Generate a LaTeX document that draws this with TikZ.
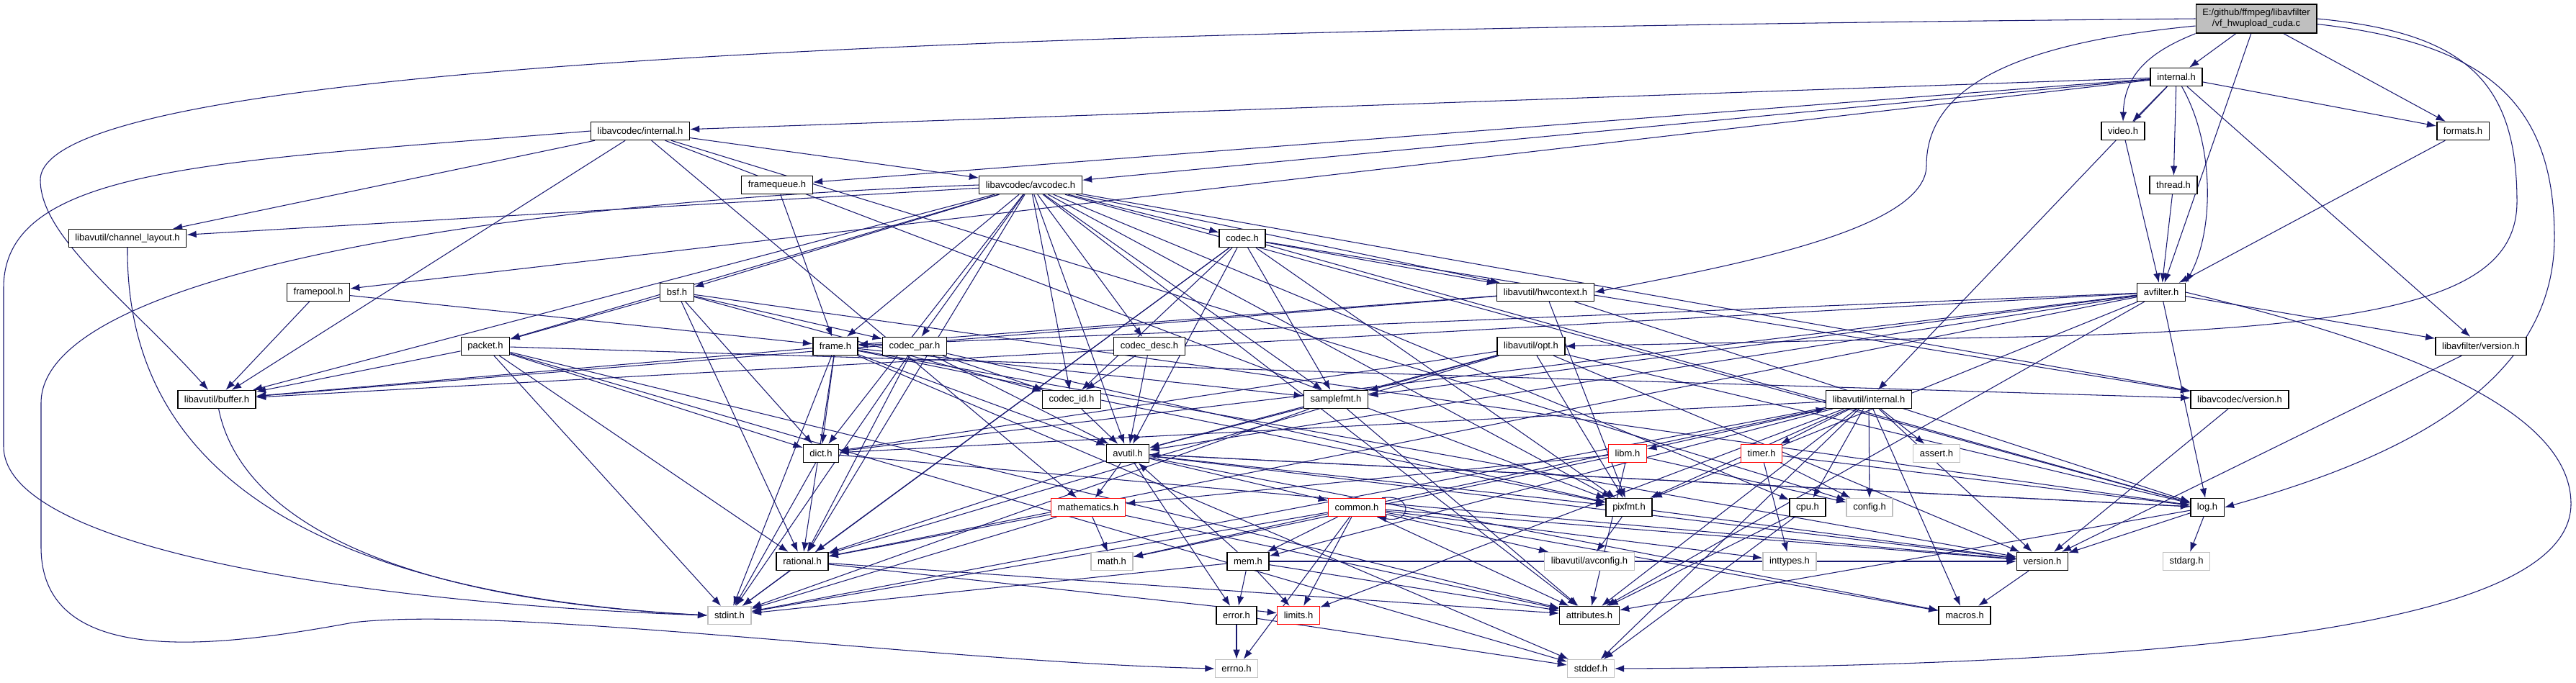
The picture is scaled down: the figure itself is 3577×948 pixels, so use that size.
\documentclass[tikz,border=0pt]{standalone}
\usepackage{fontspec}
\setmainfont{Liberation Sans}
\usetikzlibrary{positioning,arrows.meta}
\definecolor{edgeblue}{HTML}{191970}
\definecolor{grayline}{HTML}{BFBFBF}
\definecolor{rootfill}{HTML}{BFBFBF}
\pgfdeclarelayer{back}
\pgfsetlayers{back,main}

\begin{document}
\begin{tikzpicture}[x=0.02cm, y=-0.02cm,
    hdr/.style={draw=black, fill=white, line width=0.8pt, minimum height=0.5cm, inner xsep=5.2pt, inner ysep=0pt, font=\fontsize{7.4}{8.5}\selectfont},
    sys/.style={hdr, draw=grayline},
    trunc/.style={hdr, draw=red},
    dep/.style={draw=edgeblue, line width=0.6pt, -{Latex[length=7.5pt,width=5.5pt]}}
]
\useasboundingbox (0,0) rectangle (3577,948);

% file itself
\node[hdr, fill=rootfill, minimum height=0.8cm, align=center] (root) at (3133,26) {E:/github/ffmpeg/libavfilter\\/vf\_hwupload\_cuda.c};

% libavfilter and libavcodec headers
\node[hdr] (lfint) at (3022,107) {internal.h};
\node[hdr] (video) at (2948,182) {video.h};
\node[hdr] (formats) at (3420,182) {formats.h};
\node[hdr] (lcint) at (889,182) {libavcodec/internal.h};
\node[hdr] (fqueue) at (1079,257) {framequeue.h};
\node[hdr] (avcodec) at (1431,257) {libavcodec/avcodec.h};
\node[hdr] (thread) at (3018,257) {thread.h};
\node[hdr] (chlayout) at (177,331) {libavutil/channel\_layout.h};
\node[hdr] (codec) at (1725,331) {codec.h};
\node[hdr] (fpool) at (442,406) {framepool.h};
\node[hdr] (bsf) at (940,406) {bsf.h};
\node[hdr] (hwctx) at (2146,406) {libavutil/hwcontext.h};
\node[hdr] (avfilter) at (3001,406) {avfilter.h};
\node[hdr] (packet) at (674,481) {packet.h};
\node[hdr] (frame) at (1160,481) {frame.h};
\node[hdr] (cpar) at (1270,481) {codec\_par.h};
\node[hdr] (cdesc) at (1596,481) {codec\_desc.h};
\node[hdr] (opt) at (2126,481) {libavutil/opt.h};
\node[hdr] (lfver) at (3445,481) {libavfilter/version.h};
\node[hdr] (buffer) at (301,555) {libavutil/buffer.h};
\node[hdr] (cid) at (1488,555) {codec\_id.h};
\node[hdr] (sfmt) at (1855,555) {samplefmt.h};
\node[hdr] (auint) at (2595,555) {libavutil/internal.h};
\node[hdr] (lcver) at (3110,555) {libavcodec/version.h};

% libavutil and system headers
\node[hdr] (dict) at (1140,630) {dict.h};
\node[hdr] (avutil) at (1566,630) {avutil.h};
\node[trunc] (libm) at (2260,630) {libm.h};
\node[trunc] (timer) at (2446,630) {timer.h};
\node[sys] (assert) at (2689,630) {assert.h};
\node[trunc] (mathh) at (1511,705) {mathematics.h};
\node[trunc] (common) at (1884,705) {common.h};
\node[hdr] (pixfmt) at (2262,705) {pixfmt.h};
\node[hdr] (cpu) at (2510,705) {cpu.h};
\node[sys] (config) at (2596,705) {config.h};
\node[hdr] (log) at (3065,705) {log.h};
\node[hdr] (rational) at (1114,780) {rational.h};
\node[sys] (math) at (1544,780) {math.h};
\node[hdr] (mem) at (1733,780) {mem.h};
\node[sys] (avconf) at (2207,780) {libavutil/avconfig.h};
\node[sys] (inttypes) at (2485,780) {inttypes.h};
\node[hdr] (version) at (2836,780) {version.h};
\node[sys] (stdarg) at (3036,780) {stdarg.h};
\node[sys] (stdint) at (1013,855) {stdint.h};
\node[hdr] (error) at (1717,855) {error.h};
\node[trunc] (limits) at (1803,855) {limits.h};
\node[hdr] (attrib) at (2207,855) {attributes.h};
\node[hdr] (macros) at (2728,855) {macros.h};
\node[sys] (errno) at (1717,929) {errno.h};
\node[sys] (stddef) at (2209,929) {stddef.h};

\begin{pgfonlayer}{back}
% includes of the .c file
\foreach \t in {avfilter,formats,lfint} \draw[dep] (root) -- (\t);
\draw[dep] (root.south west) .. controls (2990,70) and (2950,100) .. (video.north);
\draw[dep] (root.west) .. controls (1500,40) and (56,80) .. (56,250) .. controls (56,330) and (180,420) .. (buffer);
\draw[dep] ([yshift=-0.2cm]root.west) .. controls (2800,60) and (2675,120) .. (2675,230) .. controls (2675,320) and (2400,370) .. (hwctx.east);
\draw[dep] (root.east) .. controls (3420,45) and (3495,110) .. (3495,280) .. controls (3495,420) and (3300,462) .. (2700,470) -- (opt.east);
\draw[dep] ([yshift=-0.15cm]root.east) .. controls (3450,60) and (3547,140) .. (3547,330) .. controls (3547,540) and (3320,640) .. (log.east);

% libavfilter
\foreach \t in {auint,formats,fpool,fqueue,thread,lfver,video,avcodec,lcint} \draw[dep] (lfint) -- (\t);
\draw[dep] (lfint) .. controls (3075,200) and (3075,320) .. (avfilter.north east);
\draw[dep] (video) -- (avfilter);
\draw[dep] (formats) -- (avfilter);
\draw[dep] (thread) -- (avfilter);
\foreach \t in {buffer,frame} \draw[dep] (fpool) -- (\t);
\draw[dep] (fqueue) -- (frame);
\foreach \t in {attrib,avutil,buffer,dict,frame,log,sfmt,pixfmt,rational,lfver} \draw[dep] (avfilter) -- (\t);
\draw[dep] (avfilter.east) .. controls (3300,470) and (3570,560) .. (3570,700) .. controls (3570,860) and (3100,925) .. (stddef.east);
\draw[dep] (lfver) -- (version);

% libavcodec
\foreach \t in {buffer,chlayout,mathh,pixfmt,avcodec,config} \draw[dep] (lcint) -- (\t);
\draw[dep] (lcint.west) .. controls (300,225) and (5,230) .. (5,400) -- (5,620) .. controls (5,770) and (550,840) .. (stdint.west);
\foreach \t in {sfmt,attrib,avutil,buffer,cpu,chlayout,dict,frame,hwctx,log,pixfmt,rational,bsf,codec,cdesc,cpar,cid,packet,lcver} \draw[dep] (avcodec) -- (\t);
\draw[dep] (avcodec.west) .. controls (700,280) and (57,380) .. (57,560) -- (57,760) .. controls (57,930) and (300,900) .. (490,865) .. controls (700,840) and (1300,920) .. (errno.west);
\foreach \t in {stdint,avutil,hwctx,log,pixfmt,rational,sfmt,cid,lcver} \draw[dep] (codec) -- (\t);
\foreach \t in {avutil,cid} \draw[dep] (cdesc) -- (\t);
\draw[dep] (cid) -- (avutil);
\foreach \t in {stdint,avutil,rational,pixfmt,cid} \draw[dep] (cpar) -- (\t);
\foreach \t in {stddef,stdint,attrib,buffer,dict,rational,lcver} \draw[dep] (packet) -- (\t);
\foreach \t in {dict,log,rational,cid,cpar,packet} \draw[dep] (bsf) -- (\t);
\draw[dep] (lcver) -- (version);

% libavutil
\draw[dep] (buffer) .. controls (330,700) and (500,830) .. (stdint.west);
\draw[dep] (chlayout.south) .. controls (175,600) and (350,820) .. (stdint.west);
\foreach \t in {buffer,frame,log,pixfmt} \draw[dep] (hwctx) -- (\t);
\foreach \t in {stddef,stdint,avutil,buffer,dict,rational,sfmt,pixfmt,version} \draw[dep] (frame) -- (\t);
\foreach \t in {stdint,avutil,attrib} \draw[dep] (sfmt) -- (\t);
\foreach \t in {stdint,version} \draw[dep] (dict) -- (\t);
\foreach \t in {rational,avutil,dict,log,pixfmt,sfmt,version} \draw[dep] (opt) -- (\t);
\foreach \t in {common,error,rational,version,macros,mathh,log,pixfmt} \draw[dep] (avutil) -- (\t);
\foreach \t in {stdarg,avutil,attrib,version} \draw[dep] (log) -- (\t);
\foreach \t in {limits,stdint,stddef,assert,config,attrib,timer,cpu,dict,macros,mem,pixfmt,version,libm} \draw[dep] (auint) -- (\t);
\foreach \t in {config,attrib,mathh,math} \draw[dep] (libm) -- (\t);
\foreach \t in {config,inttypes,log} \draw[dep] (timer) -- (\t);
\foreach \t in {attrib,stddef} \draw[dep] (cpu) -- (\t);
\foreach \t in {errno,inttypes,limits,math,stdint,attrib,macros,version,avconf,mem,auint} \draw[dep] (common) -- (\t);
\draw[dep] ([xshift=-3pt]common.north east) .. controls (1962,685) and (1962,728) .. ([xshift=-7pt]common.south east);
\foreach \t in {stdint,math,attrib,rational} \draw[dep] (mathh) -- (\t);
\foreach \t in {stdint,limits,attrib} \draw[dep] (rational) -- (\t);
\foreach \t in {limits,stdint,attrib,error,avutil,version} \draw[dep] (mem) -- (\t);
\foreach \t in {errno,stddef} \draw[dep] (error) -- (\t);
\foreach \t in {avconf,version} \draw[dep] (pixfmt) -- (\t);
\draw[dep] (version) -- (macros);
\end{pgfonlayer}
\end{tikzpicture}
\end{document}
